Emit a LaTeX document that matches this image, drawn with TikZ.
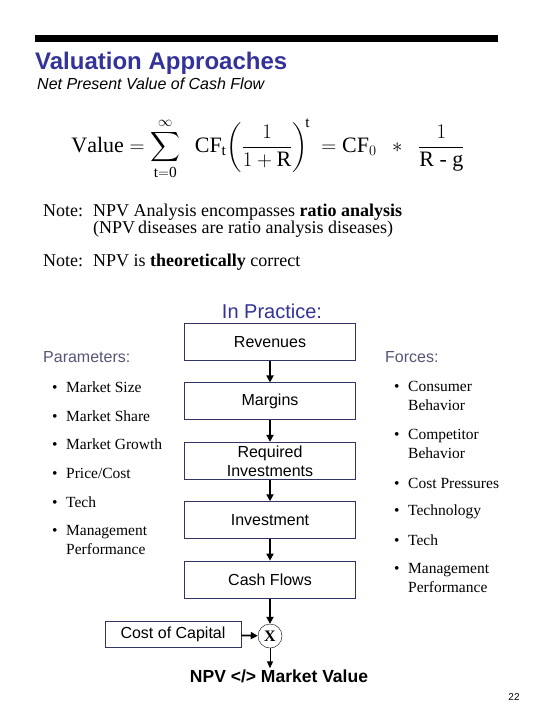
\documentclass[tikz,border=0pt]{standalone}
\usepackage{exscale}
\usepackage{fontspec}
\setmainfont{Liberation Serif}
\setsansfont{Liberation Sans}
\usetikzlibrary{positioning,arrows.meta}
\definecolor{slideblue}{RGB}{51,51,153}
\definecolor{labelgray}{RGB}{85,85,120}
\definecolor{boxline}{RGB}{51,51,102}
\newcommand{\bul}{\makebox[14pt][l]{\textbullet}}

\begin{document}
\begin{tikzpicture}[x=1pt,y=-1pt,
  box/.style={draw=boxline, line width=0.9pt, minimum width=171pt, minimum height=37pt, inner sep=2pt, align=center, font=\sffamily\fontsize{16}{19}\selectfont},
  item/.style={anchor=west, align=left, inner sep=0pt, font=\fontsize{15.5}{18.5}\selectfont},
  lbl/.style={anchor=west, inner sep=0pt, text=labelgray, font=\sffamily\fontsize{16}{19}\selectfont},
  note/.style={anchor=base west, inner sep=0pt, align=left, font=\fontsize{18}{17}\selectfont},
  arr/.style={-{Triangle[length=7pt,width=7pt]}, line width=1.8pt},
  thinarr/.style={-{Triangle[length=7pt,width=6pt]}, line width=1pt}
]
\useasboundingbox (0,0) rectangle (540,720);
\fill (35,35) rectangle (498,42);
\node[anchor=base west, inner sep=0pt, text=slideblue, font=\sffamily\bfseries\fontsize{24}{28}\selectfont] (title) at (35,69) {Valuation Approaches};
\node[anchor=base west, inner sep=0pt, font=\sffamily\itshape\fontsize{16}{19}\selectfont] (sub) at (37,89) {Net Present Value of Cash Flow};
\node[inner sep=0pt, font=\fontsize{22}{26}\selectfont] (npvf) at (268,149)
  {$\displaystyle \mathrm{Value} = \sum_{\mathrm{t=0}}^{\infty}\ \ \mathrm{CF}_{\mathrm{t}}\!\left(\frac{1}{1+\mathrm{R}}\right)^{\!\mathrm{t}}\ = \mathrm{CF}_{0}\ \ *\ \ \frac{1}{\mathrm{R}\hbox{ - }\mathrm{g}}$};
% notes
\node[note] (n1) at (43,216) {Note:};
\node[note] (n1t) at (93,233) {NPV Analysis encompasses \textbf{ratio analysis}\\(NPV\,diseases are ratio analysis diseases)};
\node[note] (n2) at (43,266) {Note:};
\node[note] (n2t) at (93,266) {NPV is \textbf{theoretically} correct};
% in practice chain
\node[text=slideblue, font=\sffamily\fontsize{20}{24}\selectfont] (prac) at (272,311) {In Practice:};
\node[box] (rev) at (270,342) {Revenues};
\node[box, below=21.5pt of rev] (mar) {Margins};
\node[box, below=21.5pt of mar] (req) {Required\\Investments};
\node[box, below=21.5pt of req] (inv) {Investment};
\node[box, below=21.5pt of inv] (cash) {Cash Flows};
\node[draw, circle, minimum size=24pt, inner sep=0pt, font=\bfseries\fontsize{16}{19}\selectfont] (mult) at (270,636) {X};
\node[box, minimum width=136pt, minimum height=26pt] (coc) at (173,634) {Cost of Capital};
\node[inner sep=1pt, font=\sffamily\bfseries\fontsize{17.5}{21}\selectfont] (mv) at (279,676) {NPV </> Market Value};
\draw[arr] (rev) -- (mar);
\draw[arr] (mar) -- (req);
\draw[arr] (req) -- (inv);
\draw[arr] (inv) -- (cash);
\draw[arr] (cash) -- (mult);
\draw[arr] (coc) -- (mult);
\draw[thinarr] (mult.south) -- (mult.south |- mv.north);
% parameters
\node[lbl] (par) at (43,357) {Parameters:};
\node[item] (p1) at (52,387) {\bul Market Size};
\node[item] (p2) at (52,416) {\bul Market Share};
\node[item] (p3) at (52,444) {\bul Market Growth};
\node[item] (p4) at (52,473) {\bul Price/Cost};
\node[item] (p5) at (52,502) {\bul Tech};
\node[item] (p6) at (52,540) {\bul Management\\\hspace*{14pt}Performance};
% forces
\node[lbl] (frc) at (385,357) {Forces:};
\node[item] (f1) at (394,396) {\bul Consumer\\\hspace*{14pt}Behavior};
\node[item] (f2) at (394,444) {\bul Competitor\\\hspace*{14pt}Behavior};
\node[item] (f3) at (394,483) {\bul Cost Pressures};
\node[item] (f4) at (394,512) {\bul Technology};
\node[item] (f5) at (394,540) {\bul Tech};
\node[item] (f6) at (394,578) {\bul Management\\\hspace*{14pt}Performance};
\node[font=\sffamily\fontsize{10}{12}\selectfont] (pg) at (514,697) {22};
\end{tikzpicture}
\end{document}
